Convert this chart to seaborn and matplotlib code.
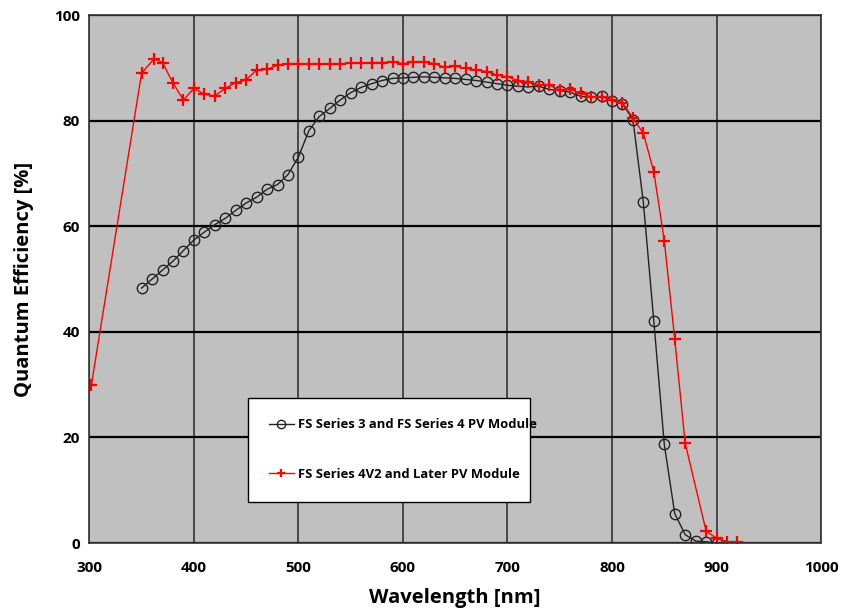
import matplotlib
matplotlib.use("Agg")
import matplotlib.pyplot as plt
import seaborn as sns
import pandas as pd

# Series 1: FS Series 3 and FS Series 4 PV Module
wl_s3 = [350, 360, 370, 380, 390, 400, 410, 420, 430, 440, 450, 460, 470, 480, 490,
         500, 510, 520, 530, 540, 550, 560, 570, 580, 590, 600, 610, 620, 630, 640,
         650, 660, 670, 680, 690, 700, 710, 720, 730, 740, 750, 760, 770, 780, 790,
         800, 810, 820, 830, 840, 850, 860, 870, 880, 890, 900]
qe_s3 = [48.3, 50.0, 51.7, 53.4, 55.4, 57.4, 58.9, 60.3, 61.5, 63.0, 64.4, 65.5, 67.0, 67.9, 69.8,
         73.1, 78.1, 80.8, 82.3, 83.9, 85.3, 86.3, 87.0, 87.6, 88.0, 88.1, 88.2, 88.3, 88.2, 88.1,
         88.0, 87.8, 87.6, 87.3, 87.0, 86.7, 86.5, 86.4, 86.5, 85.9, 85.7, 85.4, 84.6, 84.4, 84.6,
         83.8, 83.2, 80.2, 64.5, 42.0, 18.7, 5.6, 1.6, 0.4, 0.25, 0.05]

# Series 2: FS Series 4V2 and Later PV Module
wl_s4 = [302, 350, 362, 370, 380, 390, 400, 410, 420, 430, 440, 450, 460, 470, 480, 490,
         500, 510, 520, 530, 540, 550, 560, 570, 580, 590, 600, 610, 620, 630, 640,
         650, 660, 670, 680, 690, 700, 710, 720, 730, 740, 750, 760, 770, 780, 790,
         800, 810, 820, 830, 840, 850, 860, 870, 890, 900, 910, 920]
qe_s4 = [30.0, 89.0, 91.7, 91.0, 87.1, 83.9, 86.1, 85.0, 84.7, 86.1, 87.2, 87.7, 89.6, 89.7, 90.5, 90.8,
         90.8, 90.7, 90.7, 90.7, 90.7, 90.9, 90.9, 91.0, 91.0, 91.1, 90.8, 91.1, 91.1, 90.8, 90.1,
         90.3, 89.9, 89.6, 89.3, 88.6, 88.3, 87.6, 87.4, 86.7, 86.7, 85.8, 85.9, 85.2, 84.5, 84.5,
         84.0, 83.4, 80.5, 77.6, 70.3, 57.3, 38.6, 18.9, 2.3, 0.9, 0.3, 0.2]

label_s3 = "FS Series 3 and FS Series 4 PV Module"
label_s4 = "FS Series 4V2 and Later PV Module"
x_ticks = [300, 400, 500, 600, 700, 800, 900, 1000]
y_ticks = [0, 20, 40, 60, 80, 100]

df3 = pd.DataFrame({"wl": wl_s3, "qe": qe_s3})
df4 = pd.DataFrame({"wl": wl_s4, "qe": qe_s4})

plt.rcParams['font.family'] = ['Open Sans', 'DejaVu Sans']

fig = plt.figure(figsize=(8.43, 6.13), dpi=100)
ax = fig.add_axes([0.106, 0.114, 0.868, 0.8615])
ax.set_facecolor("#C0C0C0")

sns.lineplot(data=df3, x="wl", y="qe", ax=ax, color="#222222", linewidth=1.0,
             marker="o", markersize=7.5, markerfacecolor="none", markeredgecolor="#222222",
             markeredgewidth=1.0, label=label_s3, sort=False)
sns.lineplot(data=df4, x="wl", y="qe", ax=ax, color="#FF0000", linewidth=1.0,
             marker="+", markersize=8, markeredgewidth=1.6, markeredgecolor="#FF0000",
             label=label_s4, sort=False)

ax.set_xlim(300, 1000)
ax.set_ylim(0, 100)
ax.set_xticks(x_ticks)
ax.set_yticks(y_ticks)
ax.tick_params(axis="both", labelsize=11, length=0)
ax.tick_params(axis="x", pad=13)
ax.tick_params(axis="y", pad=7)
for lbl in ax.get_xticklabels() + ax.get_yticklabels():
    lbl.set_fontweight("bold")

ax.grid(True, axis="y", color="black", linewidth=1.6)
ax.grid(True, axis="x", color="#333333", linewidth=1.2)
ax.set_axisbelow(True)
for side in ["left", "bottom", "top", "right"]:
    ax.spines[side].set_color("#333333")
    ax.spines[side].set_linewidth(1.2)

ax.set_xlabel("Wavelength [nm]", fontsize=14.5, fontweight="bold", labelpad=9)
ax.set_ylabel("Quantum Efficiency [%]", fontsize=14.5, fontweight="bold", labelpad=14)

leg = ax.legend(loc="lower left", bbox_to_anchor=(0.217, 0.078, 0.385, 0.197), mode="expand",
                frameon=True, fancybox=False, shadow=False, borderpad=1.6, labelspacing=2.8,
                handlelength=1.9, handletextpad=0.3, borderaxespad=0,
                prop={"weight": "bold", "size": 9.4})
leg.get_frame().set_edgecolor("black")
leg.get_frame().set_linewidth(1.0)
leg.get_frame().set_facecolor("white")
leg.get_frame().set_alpha(1.0)
for h in leg.legend_handles:
    h.set_markersize(6)

fig.savefig("out.png", dpi=100)
